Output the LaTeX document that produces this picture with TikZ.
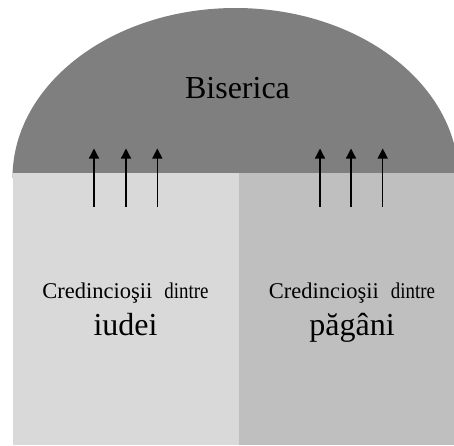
\documentclass[tikz,border=0pt]{standalone}
\usepackage{fontspec}
\setmainfont{Liberation Serif}
\usetikzlibrary{arrows.meta}
\definecolor{domegray}{HTML}{7F7F7F}
\definecolor{leftgray}{HTML}{D9D9D9}
\definecolor{rightgray}{HTML}{BFBFBF}
\begin{document}
\begin{tikzpicture}[x=1pt,y=-1pt,
  upar/.style={line width=1.3pt,-{Triangle[width=10pt,length=10pt]}},
  bigtxt/.style={anchor=base,inner sep=0pt,font=\fontsize{32}{36}\selectfont},
  smalltxt/.style={anchor=base,inner sep=0pt,font=\fontsize{22.5}{26}\selectfont}]
\useasboundingbox (0,0) rectangle (454,445);
\clip (0,0) rectangle (454,445);
% dome
\fill[domegray] (12.5,178) arc[start angle=180,end angle=360,x radius=223,y radius=170] -- cycle;
% columns
\fill[leftgray] (12.5,172.7) rectangle (238.7,445);
\fill[rightgray] (238.7,172.7) rectangle (454,445);
% texts
\node[bigtxt] (bis) at (237.5,98) {Biserica};
\node[smalltxt] (cl) at (125.5,298) {Credincioşii\hspace{12pt}\scalebox{0.84}[1]{dintre}};
\node[bigtxt] (iud) at (125.5,335) {iudei};
\node[smalltxt] (cr) at (352,298) {Credincioşii\hspace{12pt}\scalebox{0.84}[1]{dintre}};
\node[bigtxt] (pag) at (352,335) {păgâni};
% arrows
\foreach \i/\x in {1/94,2/126,3/157.3,4/320,5/351,6/382.7}{
  \coordinate (b\i) at (\x,206.7);
  \coordinate (t\i) at (\x,148.5);
  \draw[upar] (b\i) -- (t\i);
}
\end{tikzpicture}
\end{document}
